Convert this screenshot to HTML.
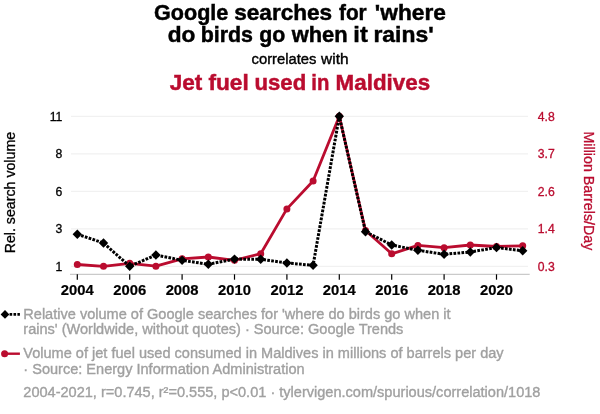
<!DOCTYPE html><html><head><meta charset="utf-8"><title>Spurious correlation</title>
<style>html,body{margin:0;padding:0;background:#fff}svg{display:block;will-change:transform}text{font-family:"Liberation Sans",Arial,Helvetica,sans-serif;white-space:pre}</style></head><body>
<svg width="600" height="414" viewBox="0 0 600 414">
<rect width="600" height="414" fill="#fff"/>
<text transform="matrix(1.0140 0 0 1 153.99 19.5)" font-size="21.3" font-weight="bold" fill="#000" stroke="#000" stroke-width="0.45">Google</text>
<text transform="matrix(1.0608 0 0 1 234.24 19.5)" font-size="21.3" font-weight="bold" fill="#000" stroke="#000" stroke-width="0.45">searches</text>
<text transform="matrix(0.9766 0 0 1 338.96 19.5)" font-size="21.3" font-weight="bold" fill="#000" stroke="#000" stroke-width="0.45">for</text>
<text transform="matrix(1.0667 0 0 1 374.87 19.5)" font-size="21.3" font-weight="bold" fill="#000" stroke="#000" stroke-width="0.45">&#x27;where</text>
<text transform="matrix(1.0639 0 0 1 167.64 41.5)" font-size="21.3" font-weight="bold" fill="#000" stroke="#000" stroke-width="0.45">do</text>
<text transform="matrix(1.0050 0 0 1 200.69 41.5)" font-size="21.3" font-weight="bold" fill="#000" stroke="#000" stroke-width="0.45">birds</text>
<text transform="matrix(1.0021 0 0 1 259.30 41.5)" font-size="21.3" font-weight="bold" fill="#000" stroke="#000" stroke-width="0.45">go</text>
<text transform="matrix(1.0283 0 0 1 291.70 41.5)" font-size="21.3" font-weight="bold" fill="#000" stroke="#000" stroke-width="0.45">when</text>
<text transform="matrix(1.1111 0 0 1 353.33 41.5)" font-size="21.3" font-weight="bold" fill="#000" stroke="#000" stroke-width="0.45">it</text>
<text transform="matrix(1.0761 0 0 1 373.39 41.5)" font-size="21.3" font-weight="bold" fill="#000" stroke="#000" stroke-width="0.45">rains&#x27;</text>
<text transform="matrix(0.9860 0 0 1 251.56 63.7)" font-size="15" fill="#000" stroke="#000" stroke-width="0.4">correlates</text>
<text transform="matrix(1.0291 0 0 1 321.10 63.7)" font-size="15" fill="#000" stroke="#000" stroke-width="0.4">with</text>
<text transform="matrix(1.0567 0 0 1 169.77 89.5)" font-size="21.3" font-weight="bold" fill="#ba0c2f" stroke="#ba0c2f" stroke-width="0.45">Jet</text>
<text transform="matrix(1.0639 0 0 1 208.43 89.5)" font-size="21.3" font-weight="bold" fill="#ba0c2f" stroke="#ba0c2f" stroke-width="0.45">fuel</text>
<text transform="matrix(1.0404 0 0 1 254.50 89.5)" font-size="21.3" font-weight="bold" fill="#ba0c2f" stroke="#ba0c2f" stroke-width="0.45">used</text>
<text transform="matrix(0.9538 0 0 1 311.37 89.5)" font-size="21.3" font-weight="bold" fill="#ba0c2f" stroke="#ba0c2f" stroke-width="0.45">in</text>
<text transform="matrix(1.0514 0 0 1 335.62 89.5)" font-size="21.3" font-weight="bold" fill="#ba0c2f" stroke="#ba0c2f" stroke-width="0.45">Maldives</text>
<g font-size="14.55" fill="#a0a0a0" stroke="#a0a0a0" stroke-width="0.35">
<text x="23.3" y="318.5">Relative volume of Google searches for &#x27;where do birds go when it</text>
<text x="23.3" y="334.2">rains&#x27; (Worldwide, without quotes) · Source: Google Trends</text>
<text x="23.3" y="358.1">Volume of jet fuel used consumed in Maldives in millions of barrels per day</text>
<text x="23.3" y="374.2">· Source: Energy Information Administration</text>
<text x="23.3" y="397.2">2004-2021, r=0.745, r²=0.555, p&lt;0.01 · tylervigen.com/spurious/correlation/1018</text>
</g>
<g stroke="#f1f1f1" stroke-width="1.2">
<line x1="71" y1="116.3" x2="528" y2="116.3"/>
<line x1="71" y1="153.8" x2="528" y2="153.8"/>
<line x1="71" y1="191.3" x2="528" y2="191.3"/>
<line x1="71" y1="228.8" x2="528" y2="228.8"/>
<line x1="71" y1="266.3" x2="528" y2="266.3"/>
</g>
<g stroke="#bdbdbd" stroke-width="1"><line x1="70" y1="274.3" x2="529.7" y2="274.3"/></g>
<g stroke="#000" stroke-width="1.2">
<line x1="77.3" y1="274.3" x2="77.3" y2="279.7"/>
<line x1="129.7" y1="274.3" x2="129.7" y2="279.7"/>
<line x1="182.1" y1="274.3" x2="182.1" y2="279.7"/>
<line x1="234.5" y1="274.3" x2="234.5" y2="279.7"/>
<line x1="286.9" y1="274.3" x2="286.9" y2="279.7"/>
<line x1="339.3" y1="274.3" x2="339.3" y2="279.7"/>
<line x1="391.7" y1="274.3" x2="391.7" y2="279.7"/>
<line x1="444.1" y1="274.3" x2="444.1" y2="279.7"/>
<line x1="496.5" y1="274.3" x2="496.5" y2="279.7"/>
</g>
<g font-size="14.8" font-weight="bold" text-anchor="middle" fill="#000" stroke="#000" stroke-width="0.2">
<text x="77.3" y="294.8">2004</text>
<text x="129.7" y="294.8">2006</text>
<text x="182.1" y="294.8">2008</text>
<text x="234.5" y="294.8">2010</text>
<text x="286.9" y="294.8">2012</text>
<text x="339.3" y="294.8">2014</text>
<text x="391.7" y="294.8">2016</text>
<text x="444.1" y="294.8">2018</text>
<text x="496.5" y="294.8">2020</text>
</g>
<g font-size="12.2" text-anchor="end" fill="#000" stroke="#000" stroke-width="0.3">
<text x="62.3" y="120.7">11</text>
<text x="62.3" y="158.2">8</text>
<text x="62.3" y="195.7">6</text>
<text x="62.3" y="233.2">3</text>
<text x="62.3" y="270.7">1</text>
</g>
<g font-size="12.2" text-anchor="start" fill="#ba0c2f" stroke="#ba0c2f" stroke-width="0.3">
<text x="537.8" y="120.7">4.8</text>
<text x="537.8" y="158.2">3.7</text>
<text x="537.8" y="195.7">2.6</text>
<text x="537.8" y="233.2">1.4</text>
<text x="537.8" y="270.7">0.3</text>
</g>
<text transform="translate(15.1,192.6) rotate(-90)" font-size="14.6" text-anchor="middle" fill="#000" stroke="#000" stroke-width="0.3" textLength="121.5" lengthAdjust="spacingAndGlyphs">Rel. search volume</text>
<text transform="translate(584.1,190.9) rotate(90)" font-size="15" text-anchor="middle" fill="#ba0c2f" stroke="#ba0c2f" stroke-width="0.3" textLength="118.9" lengthAdjust="spacingAndGlyphs">Million Barrels/Day</text>
<polyline points="77.3,264.5 103.5,266.3 129.7,263.3 155.9,266.2 182.1,258.8 208.3,257.0 234.5,260.3 260.7,253.7 286.9,208.9 313.1,181.0 339.3,116.3 365.5,230.5 391.7,253.8 417.9,245.4 444.1,247.7 470.3,245.0 496.5,246.5 522.7,245.8" fill="none" stroke="#ba0c2f" stroke-width="2.8" stroke-linejoin="round" stroke-linecap="round"/>
<g fill="#ba0c2f">
<circle cx="77.3" cy="264.5" r="3.5"/>
<circle cx="103.5" cy="266.3" r="3.5"/>
<circle cx="129.7" cy="263.3" r="3.5"/>
<circle cx="155.9" cy="266.2" r="3.5"/>
<circle cx="182.1" cy="258.8" r="3.5"/>
<circle cx="208.3" cy="257.0" r="3.5"/>
<circle cx="234.5" cy="260.3" r="3.5"/>
<circle cx="260.7" cy="253.7" r="3.5"/>
<circle cx="286.9" cy="208.9" r="3.5"/>
<circle cx="313.1" cy="181.0" r="3.5"/>
<circle cx="339.3" cy="116.3" r="3.5"/>
<circle cx="365.5" cy="230.5" r="3.5"/>
<circle cx="391.7" cy="253.8" r="3.5"/>
<circle cx="417.9" cy="245.4" r="3.5"/>
<circle cx="444.1" cy="247.7" r="3.5"/>
<circle cx="470.3" cy="245.0" r="3.5"/>
<circle cx="496.5" cy="246.5" r="3.5"/>
<circle cx="522.7" cy="245.8" r="3.5"/>
</g>
<polyline points="77.3,234.2 103.5,243.0 129.7,266.3 155.9,255.0 182.1,260.3 208.3,264.3 234.5,259.1 260.7,259.2 286.9,263.0 313.1,265.3 339.3,116.2 365.5,231.7 391.7,245.0 417.9,250.3 444.1,254.3 470.3,252.0 496.5,247.5 522.7,250.8" fill="none" stroke="#000" stroke-width="3" stroke-dasharray="2.7 1.3"/>
<g fill="#000">
<path d="M77.3 229.5L82.0 234.2L77.3 238.9L72.6 234.2Z"/>
<path d="M103.5 238.3L108.2 243.0L103.5 247.7L98.8 243.0Z"/>
<path d="M129.7 261.6L134.4 266.3L129.7 271.0L125.0 266.3Z"/>
<path d="M155.9 250.3L160.6 255.0L155.9 259.7L151.2 255.0Z"/>
<path d="M182.1 255.6L186.8 260.3L182.1 265.0L177.4 260.3Z"/>
<path d="M208.3 259.6L213.0 264.3L208.3 269.0L203.6 264.3Z"/>
<path d="M234.5 254.4L239.2 259.1L234.5 263.8L229.8 259.1Z"/>
<path d="M260.7 254.5L265.4 259.2L260.7 263.9L256.0 259.2Z"/>
<path d="M286.9 258.3L291.6 263.0L286.9 267.7L282.2 263.0Z"/>
<path d="M313.1 260.6L317.8 265.3L313.1 270.0L308.4 265.3Z"/>
<path d="M339.3 111.5L344.0 116.2L339.3 120.9L334.6 116.2Z"/>
<path d="M365.5 227.0L370.2 231.7L365.5 236.4L360.8 231.7Z"/>
<path d="M391.7 240.3L396.4 245.0L391.7 249.7L387.0 245.0Z"/>
<path d="M417.9 245.6L422.6 250.3L417.9 255.0L413.2 250.3Z"/>
<path d="M444.1 249.6L448.8 254.3L444.1 259.0L439.4 254.3Z"/>
<path d="M470.3 247.3L475.0 252.0L470.3 256.7L465.6 252.0Z"/>
<path d="M496.5 242.8L501.2 247.5L496.5 252.2L491.8 247.5Z"/>
<path d="M522.7 246.1L527.4 250.8L522.7 255.5L518.0 250.8Z"/>
</g>
<line x1="9.6" y1="314.4" x2="19.9" y2="314.4" stroke="#000" stroke-width="2.6" stroke-dasharray="2.6 1.3"/>
<path d="M5.0 310.0L9.4 314.4L5.0 318.8L0.6 314.4Z" fill="#000"/>
<line x1="4.8" y1="353.7" x2="19.9" y2="353.7" stroke="#ba0c2f" stroke-width="2.4"/>
<circle cx="4.6" cy="353.7" r="3.5" fill="#ba0c2f"/>
</svg></body></html>
